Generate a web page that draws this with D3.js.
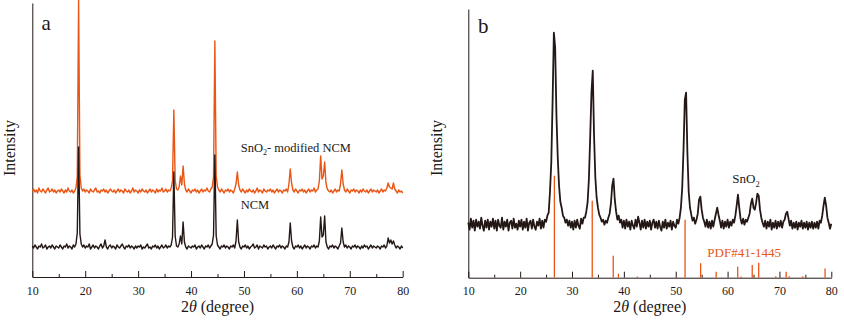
<!DOCTYPE html>
<html>
<head>
<meta charset="utf-8">
<script src="https://cdn.jsdelivr.net/npm/d3@7"></script>
<style>
  body { margin: 0; background: #fff; }
  svg text { font-family: "Liberation Serif", "DejaVu Serif", serif; }
  .axis path, .axis line { stroke: #231815; }
  .axis text { font-size: 12px; fill: #231815; }
</style>
</head>
<body>
<div id="chart"></div>
<script>
// 2theta sampling: 10 to 80 degrees, every 0.25 degree (281 points)
const twoTheta = d3.range(0, 281).map(i => 10 + i * 0.25);

// panel a, SnO2-modified NCM (orange), intensity a.u.
const modifiedNCM = [
  86,88,85,87,84,89,86,85,88,86,84,87,89,85,86,88,85,87,84,86,
  87,85,88,86,84,87,85,89,86,85,87,84,86,89,100,277,102,89,86,88,
  85,87,86,84,88,86,85,87,89,85,86,84,87,86,88,85,87,84,86,88,
  86,85,87,84,86,88,85,87,86,84,88,86,85,87,84,86,89,85,87,86,
  84,87,85,88,86,85,87,84,86,88,85,87,86,84,88,85,87,86,89,85,
  86,88,85,87,86,89,96,167,97,88,87,90,101,92,111,93,87,85,88,86,
  84,87,86,88,85,87,84,86,88,85,87,86,89,86,85,88,90,100,236,101,
  90,87,85,88,86,84,87,86,88,85,87,86,84,88,93,105,92,87,85,88,
  86,84,87,85,88,86,85,87,84,86,89,85,87,86,84,88,86,85,87,86,
  88,85,87,84,86,88,85,87,86,84,87,86,88,85,93,108,94,87,85,88,
  86,84,87,86,88,85,87,84,86,88,85,87,86,89,85,87,88,96,121,98,
  101,115,94,88,86,85,87,84,86,88,85,87,86,93,107,93,87,85,88,86,
  84,87,86,88,85,87,86,84,87,85,88,86,85,87,84,86,88,85,87,86,
  85,87,84,86,88,85,87,86,89,94,90,89,88,94,88,86,84,87,85,86,84
];

// panel a, NCM (black)
const pristineNCM = [
  31,29,32,30,28,31,30,33,29,30,32,28,30,31,29,32,30,28,31,30,
  29,32,30,28,31,30,33,29,31,30,28,32,30,33,44,130,43,33,30,32,
  29,31,30,33,28,30,32,29,31,30,28,31,33,29,31,37,30,28,31,32,
  29,31,30,28,32,30,29,31,33,30,28,31,30,32,29,31,30,28,31,29,
  31,30,32,28,30,29,31,33,29,30,28,31,30,32,29,31,28,30,32,29,
  30,32,29,31,30,32,40,105,41,31,30,33,41,33,55,35,30,28,31,30,
  29,31,30,32,28,30,31,29,32,30,28,31,30,32,29,31,33,42,122,41,
  32,30,28,31,30,32,29,31,30,28,31,30,32,29,36,57,35,30,28,31,
  30,32,29,31,28,30,31,33,29,30,32,28,31,30,29,32,30,31,28,30,
  31,29,32,30,28,31,30,32,29,31,30,28,31,30,35,54,36,30,28,31,
  30,32,29,31,28,30,32,29,31,30,28,31,30,32,29,31,30,36,60,40,
  42,61,35,30,28,31,30,32,29,31,30,28,31,34,49,35,30,32,29,31,
  30,28,31,30,32,29,31,30,28,31,29,32,30,31,28,30,32,29,31,30,
  29,31,30,28,31,30,32,29,31,39,34,37,33,36,32,29,31,30,28,31,29
];

// panel b, SnO2 (black)
const sno2 = [
  55,48,59,50,57,47,58,51,56,49,60,52,47,57,50,58,48,56,51,59,
  49,57,47,58,52,50,60,48,56,51,58,47,55,57,49,59,50,54,48,57,
  51,58,48,56,50,59,47,55,57,49,58,51,48,56,52,59,49,57,50,58,
  56,62,65,86,115,175,245,230,162,120,92,76,70,62,60,55,58,52,57,50,
  56,48,57,50,58,52,49,59,54,60,60,66,75,98,140,185,207,142,100,80,
  70,63,60,56,58,53,57,55,60,64,74,92,99,78,66,58,62,55,58,50,
  57,49,58,51,56,48,57,52,49,58,51,61,55,48,57,50,58,49,56,51,
  57,48,55,58,50,56,49,57,51,47,56,50,58,49,55,51,57,48,56,52,
  50,58,54,60,70,90,128,178,185,125,86,70,63,57,60,54,58,64,78,81,
  68,60,56,51,58,50,56,49,57,51,58,64,70,63,57,50,57,49,56,51,
  58,50,56,52,58,55,62,72,83,70,59,54,59,53,58,56,60,64,74,79,
  70,68,75,84,82,68,60,55,51,57,49,56,51,58,48,55,50,57,49,56,
  51,57,50,56,58,64,66,59,52,57,49,55,50,56,48,55,51,57,49,55,
  50,56,48,55,50,56,49,55,50,56,49,57,55,62,72,80,72,60,55,49,54
];

// PDF#41-1445 reference lines
const pdfPos = [26.6, 33.9, 37.95, 38.95, 42.6, 51.8, 54.8, 57.8, 61.95, 62.6, 64.75, 66.0, 69.3, 71.3, 71.9, 74.5, 78.8];
const pdfInt = [102, 77, 22, 4, 1.2, 58, 14.5, 6, 11, 1.2, 12.7, 15, 1.5, 6, 1.5, 1.5, 9.3];

const xTicks = [10, 20, 30, 40, 50, 60, 70, 80];
const xMinor = [15, 25, 35, 45, 55, 65, 75];

const INK = "#231815";
const ORANGE = "#ea5514";
const FONT = '"Liberation Serif", "DejaVu Serif", serif';

const svg = d3.select("#chart").append("svg")
  .attr("width", 844)
  .attr("height", 324)
  .attr("font-family", FONT);

function drawPanel(p) {
  const x = d3.scaleLinear().domain([10, 80]).range([p.left, p.right]);
  const y = d3.scaleLinear().domain([0, p.yMax]).range([p.bottom, p.top]);
  const g = svg.append("g");

  // axes
  g.append("g")
    .attr("class", "axis")
    .attr("transform", `translate(0, ${p.bottom})`)
    .call(d3.axisBottom(x).tickValues(xMinor).tickSize(-3).tickFormat(""))
    .call(a => a.select(".domain").remove());
  g.append("g")
    .attr("class", "axis")
    .attr("transform", `translate(0, ${p.bottom})`)
    .call(d3.axisBottom(x).tickValues(xTicks).tickSizeInner(-6).tickSizeOuter(0).tickPadding(9))
    .attr("font-family", FONT);
  g.append("g")
    .attr("class", "axis")
    .attr("transform", `translate(${p.left}, 0)`)
    .call(d3.axisLeft(y).tickValues([]).tickSizeOuter(0));

  // axis titles
  const xt = g.append("text")
    .attr("x", (p.left + p.right) / 2)
    .attr("y", 312)
    .attr("text-anchor", "middle")
    .attr("font-size", "16px")
    .attr("fill", INK);
  xt.append("tspan").text("2");
  xt.append("tspan").attr("font-style", "italic").text("θ");
  xt.append("tspan").text(" (degree)");

  g.append("text")
    .attr("transform", `translate(${p.yLabelX}, 148) rotate(-90)`)
    .attr("text-anchor", "middle")
    .attr("font-size", "16px")
    .attr("fill", INK)
    .text("Intensity");

  g.append("text")
    .attr("x", p.tagX)
    .attr("y", p.tagY)
    .attr("font-size", "21px")
    .attr("fill", INK)
    .text(p.tag);

  const line = d3.line()
    .x((d, i) => x(twoTheta[i]))
    .y(d => y(d));

  p.series.forEach(s => {
    g.append("path")
      .attr("fill", "none")
      .attr("stroke", s.color)
      .attr("stroke-width", s.width)
      .attr("stroke-linejoin", "round")
      .attr("d", line(s.values));
  });

  return { g, x, y };
}

// panel a
const pa = drawPanel({
  left: 32.3, right: 402.7, top: 3, bottom: 277, yMax: 274,
  yLabelX: 14.5, tag: "a", tagX: 41.5, tagY: 29.5,
  series: [
    { values: modifiedNCM, color: ORANGE, width: 1.4 },
    { values: pristineNCM, color: INK, width: 1.4 }
  ]
});

const la = pa.g.append("text")
  .attr("x", 240.7).attr("y", 151.7)
  .attr("font-size", "12.5px").attr("fill", INK);
la.append("tspan").text("SnO");
la.append("tspan").attr("font-size", "8px").attr("dy", 3).text("2");
la.append("tspan").attr("dy", -3).text("- modified NCM");

pa.g.append("text")
  .attr("x", 240.7).attr("y", 209.3)
  .attr("font-size", "12.5px").attr("fill", INK)
  .text("NCM");

// panel b
const pb = drawPanel({
  left: 468.3, right: 831.3, top: 9, bottom: 277.7, yMax: 268.7,
  yLabelX: 442, tag: "b", tagX: 478, tagY: 33,
  series: [
    { values: sno2, color: INK, width: 1.8 }
  ]
});

pb.g.selectAll(".pdf")
  .data(pdfPos)
  .join("line")
  .attr("class", "pdf")
  .attr("x1", d => pb.x(d))
  .attr("x2", d => pb.x(d))
  .attr("y1", pb.y(0))
  .attr("y2", (d, i) => pb.y(pdfInt[i]))
  .attr("stroke", ORANGE)
  .attr("stroke-width", 1.3);

const lb = pb.g.append("text")
  .attr("x", 732.3).attr("y", 182.7)
  .attr("font-size", "13px").attr("fill", INK);
lb.append("tspan").text("SnO");
lb.append("tspan").attr("font-size", "8.5px").attr("dy", 4).text("2");

pb.g.append("text")
  .attr("x", 707.3).attr("y", 256.7)
  .attr("font-size", "13px").attr("fill", ORANGE)
  .text("PDF#41-1445");
</script>
</body>
</html>
